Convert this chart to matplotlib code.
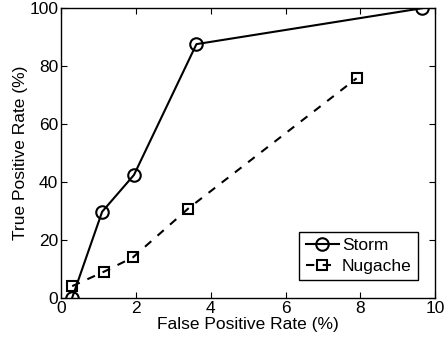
import matplotlib
matplotlib.use("Agg")
import matplotlib.pyplot as plt

plt.rcParams['font.family'] = ['Liberation Sans', 'DejaVu Sans']

storm_fpr = [0.3, 1.1, 1.95, 3.62, 9.65]
storm_tpr = [0.0, 29.7, 42.4, 87.6, 100.0]
nugache_fpr = [0.3, 1.15, 1.92, 3.4, 7.9]
nugache_tpr = [4.0, 9.0, 13.9, 30.8, 75.8]


def main():
    fig = plt.figure(figsize=(4.45, 3.43), dpi=100)
    ax = fig.add_axes([0.137, 0.132, 0.841, 0.844])

    ax.plot(storm_fpr, storm_tpr, '-o', color='black', lw=1.5,
            markersize=9, markerfacecolor='none', markeredgewidth=1.5, label='Storm')
    ax.plot(nugache_fpr, nugache_tpr, '--s', color='black', lw=1.5, dashes=(4, 4),
            markersize=7, markerfacecolor='none', markeredgewidth=1.5, label='Nugache')

    ax.set_xlim(0, 10)
    ax.set_ylim(0, 100)
    ax.set_xticks(range(0, 11, 2))
    ax.set_yticks(range(0, 101, 20))
    ax.tick_params(direction='in', top=True, right=True, labelsize=12.5, length=4, pad=2)
    for s in ax.spines.values():
        s.set_linewidth(1.0)

    ax.set_xlabel('False Positive Rate (%)', fontsize=12.5, labelpad=1)
    ax.set_ylabel('True Positive Rate (%)', fontsize=12.5, labelpad=1)

    leg = ax.legend(loc='lower right', fontsize=12.5, fancybox=False, framealpha=1,
                    edgecolor='black', handlelength=1.9, handletextpad=0.2,
                    borderaxespad=1.0, borderpad=0.35, labelspacing=0.35)
    leg.get_frame().set_linewidth(1.0)

    fig.savefig('out.png', dpi=100)


if __name__ == "__main__":
    main()
